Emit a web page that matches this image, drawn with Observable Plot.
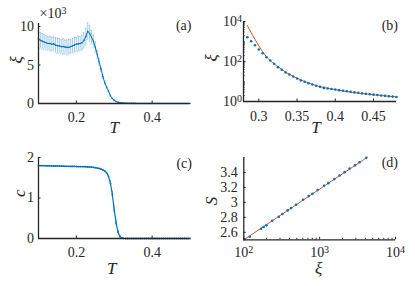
<!DOCTYPE html>
<html><head><meta charset="utf-8">
<script src="https://cdn.jsdelivr.net/npm/d3@7"></script>
<script src="https://cdn.jsdelivr.net/npm/@observablehq/plot@0.6"></script>
<style>
html,body{margin:0;padding:0;background:#fff;}
#fig{position:relative;width:415px;height:286px;overflow:hidden;background:#fff;}
#fig svg{position:absolute;font-family:"Liberation Serif","Times New Roman",serif !important;font-size:14px;color:#262626;background:transparent;overflow:visible;}
#fig svg text{font-family:"Liberation Serif","Times New Roman",serif !important;}
</style></head><body><div id="fig"></div>
<script>
// ---- data ----
const T_ac = [0.1,0.105,0.11,0.115,0.12,0.125,0.13,0.135,0.14,0.145,0.15,0.155,0.16,0.165,0.17,0.175,0.18,0.185,0.19,0.195,
  0.2,0.205,0.21,0.215,0.22,0.225,0.23,0.235,0.24,0.245,0.25,0.255,0.26,0.265,0.27,0.275,0.28,0.285,0.29,0.295,
  0.3,0.305,0.31,0.315,0.32,0.325,0.33,0.335,0.34,0.345,0.35,0.355,0.36,0.365,0.37,0.375,0.38,0.385,0.39,0.395,
  0.4,0.405,0.41,0.415,0.42,0.425,0.43,0.435,0.44,0.445,0.45,0.455,0.46,0.465,0.47,0.475,0.48,0.485,0.49,0.495,0.5];
// panel (a): correlation length, units of 10^3
const xi_a = [8.4,8.2,8.1,8.0,7.9,7.8,7.8,7.7,7.75,7.6,7.5,7.5,7.4,7.4,7.35,7.3,7.3,7.4,7.5,7.6,
  7.7,7.75,7.8,7.9,8.2,8.7,9.4,9.1,8.6,8.1,7.3,6.4,5.4,4.5,3.5,2.7,2.1,1.6,1.0,0.65,
  0.4,0.26,0.16,0.11,0.077,0.052,0.038,0.028,0.022,0.018,0.014,0.011,0.0097,0.0082,0.0071,0.0061,0.0054,0.0048,0.0045,0.0042,
  0.004,0.0037,0.0035,0.0033,0.0031,0.0029,0.0027,0.0026,0.0024,0.0023,0.0022,0.0021,0.002,0.0019,0.0018,0.0018,0.0017,0.0016,0.0016,0.0015,0.0015];
const err_a = [1.1,1.0,1.0,0.95,0.9,0.9,0.95,0.9,0.9,0.95,1.0,0.95,0.9,1.0,0.9,0.95,1.0,0.9,0.95,1.0,
  0.9,1.0,0.9,1.0,1.0,1.1,1.1,1.0,0.9,0.8,0.7,0.55,0.45,0.35,0.28,0.22,0.16,0.11,0.08,0.05,
  0.04,0.03,0.02,0,0,0,0,0,0,0,0,0,0,0,0,0,0,0,0,0,
  0,0,0,0,0,0,0,0,0,0,0,0,0,0,0,0,0,0,0,0,0];
// panel (c): central charge
const c_c = [1.80,1.80,1.80,1.80,1.795,1.795,1.795,1.79,1.79,1.79,1.79,1.788,1.786,1.785,1.784,1.783,1.782,1.78,1.78,1.779,
  1.778,1.777,1.776,1.775,1.773,1.771,1.768,1.765,1.76,1.755,1.748,1.74,1.73,1.715,1.695,1.665,1.62,1.53,1.36,1.08,
  0.70,0.38,0.16,0.05,0.015,0.005,0,0,0,0,0,0,0,0,0,0,0,0,0,0,
  0,0,0,0,0,0,0,0,0,0,0,0,0,0,0,0,0,0,0,0,0];
const err_c = [0,0,0,0,0,0,0,0,0,0,0,0,0,0,0,0,0,0,0,0,
  0,0,0,0,0,0,0,0,0,0,0,0,0,0,0,0,0.02,0.04,0.07,0.09,
  0.09,0.07,0.04,0.02,0,0,0,0,0,0,0,0,0,0,0,0,0,0,0,0,
  0,0,0,0,0,0,0,0,0,0,0,0,0,0,0,0,0,0,0,0,0];
// panel (b): xi vs T (log), with fit
const T_b = [0.285,0.29,0.295,0.3,0.305,0.31,0.315,0.32,0.325,0.33,0.335,0.34,0.345,0.35,0.355,0.36,0.365,0.37,0.375,0.38,
  0.385,0.39,0.395,0.4,0.405,0.41,0.415,0.42,0.425,0.43,0.435,0.44,0.445,0.45,0.455,0.46,0.465,0.47,0.475,0.48];
const xi_b = [1640,1035,653,398,260,164,112,77,52,38.5,28,22.4,17.8,14.1,11.2,9.7,8.2,7.1,6.1,5.4,
  4.8,4.5,4.2,4.0,3.7,3.45,3.25,3.05,2.85,2.7,2.55,2.42,2.3,2.2,2.1,2.0,1.92,1.84,1.76,1.68];
const T_bfit = [0.285,0.29,0.295,0.3,0.305,0.31,0.315,0.32,0.325,0.33,0.335,0.34,0.345,0.35,0.36,0.37,0.38,0.39,0.4,0.41,0.42,0.43,0.44,0.45,0.46,0.47,0.48];
const xi_bfit = [6310,2750,1290,603,309,174,110,76,55,39.8,29.5,22.9,18.2,14.5,10,7.24,5.5,4.6,3.9,3.4,2.95,2.62,2.38,2.18,1.99,1.83,1.7];
// panel (d): entropy vs xi
const xi_d = [102,120,169,183,199,237,289,323,379,421,489,605,716,802,942,1143,1300,1560,1832,2133,2483,2924,3357,4121];
const S_d = [2.507,2.541,2.648,2.671,2.693,2.755,2.808,2.844,2.893,2.924,2.968,3.035,3.084,3.115,3.164,3.221,3.257,3.311,3.36,3.404,3.453,3.497,3.537,3.595];
const xi_dfit = [100,4200];
const S_dfit = [2.5,3.6];
// ticks
const xTicks_ac = [0.2,0.4];
const yTicks_a = [0,5,10];
const yTicks_c = [0,1,2];
const xTicks_b = [0.3,0.35,0.4,0.45];
const yTicks_b = [1,100,10000];
const yMinor_b = [2,3,4,5,6,7,8,9,10,20,30,40,50,60,70,80,90,200,300,400,500,600,700,800,900,1000,2000,3000,4000,5000,6000,7000,8000,9000];
const xTicks_d = [100,1000,10000];
const xMinor_d = [200,300,400,500,600,700,800,900,2000,3000,4000,5000,6000,7000,8000,9000];
const yTicks_d = [2.6,2.8,3,3.2,3.4];

// ---- style ----
const BLUE = "#0072BD", ORANGE = "#D95319", INK = "#262626";
const TF = 14;
const fig = document.getElementById("fig");
const pow10 = d => "10^" + Math.round(Math.log10(d));
function supify(svg) {
  svg.querySelectorAll("text").forEach(t => {
    const m = t.textContent.match(/^(.*10)\^(\d)$/);
    if (m) {
      t.textContent = m[1];
      const s = document.createElementNS("http://www.w3.org/2000/svg", "tspan");
      s.setAttribute("dy", "-0.42em");
      s.setAttribute("font-size", "72%");
      s.textContent = m[2];
      t.appendChild(s);
    }
  });
}
function place(svg, left, top) { supify(svg); svg.style.left = left + "px"; svg.style.top = top + "px"; fig.appendChild(svg); }
const lbl = (t, o) => Plot.text([t], {text: d => d, fill: INK, ...o});

// ---- (a) ----
const A = T_ac.map((T, i) => ({T, v: xi_a[i], e: err_a[i]}));
const Ae = A.filter(d => d.e > 0);
place(Plot.plot({
  width: 207, height: 143, marginLeft: 38, marginRight: 17.5, marginTop: 23, marginBottom: 40,
  x: {domain: [0.1, 0.5]}, y: {domain: [0, 10.4]},
  marks: [
    Plot.ruleX(Ae, {x: "T", y1: d => d.v - d.e, y2: d => d.v + d.e, stroke: BLUE, strokeOpacity: 0.5, strokeWidth: 0.7}),
    Plot.ruleY(Ae, {y: d => d.v + d.e, x1: d => d.T - 0.0015, x2: d => d.T + 0.0015, stroke: BLUE, strokeOpacity: 0.5, strokeWidth: 0.7}),
    Plot.ruleY(Ae, {y: d => d.v - d.e, x1: d => d.T - 0.0015, x2: d => d.T + 0.0015, stroke: BLUE, strokeOpacity: 0.5, strokeWidth: 0.7}),
    Plot.line(A, {x: "T", y: "v", stroke: BLUE, strokeWidth: 1}),
    Plot.dot(A, {x: "T", y: "v", r: 0.8, fill: BLUE}),
    Plot.ruleX([0.1], {stroke: INK, strokeWidth: 1.3}),
    Plot.ruleY([0], {stroke: INK, strokeWidth: 1.3}),
    Plot.axisX({ticks: xTicks_ac, tickFormat: d => d.toFixed(1), tickSize: -2.5, tickPadding: 11.5, label: null, stroke: INK, fontSize: TF}),
    Plot.axisY({ticks: yTicks_a, tickFormat: d => String(d), tickSize: -2.5, tickPadding: 7, label: null, stroke: INK, fontSize: TF}),
    lbl("ξ", {frameAnchor: "left", dx: -22, rotate: -90, fontStyle: "italic", fontSize: 17}),
    lbl("T", {frameAnchor: "bottom", dy: 24, lineAnchor: "middle", fontStyle: "italic", fontSize: 17}),
    lbl("×10^3", {frameAnchor: "top-left", textAnchor: "start", dx: 1, dy: -10, lineAnchor: "middle", fontSize: 14}),
    lbl("(a)", {frameAnchor: "top-right", textAnchor: "end", dx: 1.5, dy: 2.5, lineAnchor: "middle", fontSize: 14})
  ]
}), 0, 0);

// ---- (b) ----
const B = T_b.map((T, i) => ({T, v: xi_b[i]}));
const Bf = T_bfit.map((T, i) => ({T, v: xi_bfit[i]}));
place(Plot.plot({
  width: 208, height: 143, marginLeft: 36, marginRight: 19, marginTop: 21, marginBottom: 42,
  x: {domain: [0.28, 0.48]}, y: {type: "log", domain: [1, 10000]},
  marks: [
    Plot.line(Bf, {x: "T", y: "v", stroke: ORANGE, strokeWidth: 1, curve: "monotone-x"}),
    Plot.dot(B, {x: "T", y: "v", r: 1.3, fill: BLUE}),
    Plot.ruleX([0.28], {stroke: INK, strokeWidth: 1.3}),
    Plot.ruleY([1], {stroke: INK, strokeWidth: 1.3}),
    Plot.axisX({ticks: xTicks_b, tickFormat: d => String(d), tickSize: -2.5, tickPadding: 12, label: null, stroke: INK, fontSize: TF}),
    Plot.axisY({ticks: yMinor_b, tickFormat: () => "", tickSize: -1.5, tickPadding: 2, label: null, stroke: INK}),
    Plot.axisY({ticks: yTicks_b, tickFormat: pow10, tickSize: -2.5, tickPadding: 4, label: null, stroke: INK, fontSize: TF}),
    lbl("ξ", {frameAnchor: "left", dx: -32, rotate: -90, fontStyle: "italic", fontSize: 17}),
    lbl("T", {frameAnchor: "bottom", dx: -4, dy: 26.5, lineAnchor: "middle", fontStyle: "italic", fontSize: 17}),
    lbl("(b)", {frameAnchor: "top-right", textAnchor: "end", dx: 1.5, dy: 4, lineAnchor: "middle", fontSize: 14})
  ]
}), 207, 0);

// ---- (c) ----
const C = T_ac.map((T, i) => ({T, v: c_c[i], e: err_c[i]}));
const Ce = C.filter(d => d.e > 0);
place(Plot.plot({
  width: 207, height: 143, marginLeft: 38, marginRight: 17.5, marginTop: 14, marginBottom: 48,
  x: {domain: [0.1, 0.5]}, y: {domain: [0, 2]},
  marks: [
    Plot.ruleX(Ce, {x: "T", y1: d => d.v - d.e, y2: d => d.v + d.e, stroke: BLUE, strokeOpacity: 0.7, strokeWidth: 0.8}),
    Plot.line(C, {x: "T", y: "v", stroke: BLUE, strokeWidth: 1.2}),
    Plot.dot(C, {x: "T", y: "v", r: 0.9, fill: BLUE}),
    Plot.ruleX([0.1], {stroke: INK, strokeWidth: 1.3}),
    Plot.ruleY([0], {stroke: INK, strokeWidth: 1.3}),
    Plot.axisX({ticks: xTicks_ac, tickFormat: d => d.toFixed(1), tickSize: -2.5, tickPadding: 11, label: null, stroke: INK, fontSize: TF}),
    Plot.axisY({ticks: yTicks_c, tickFormat: d => String(d), tickSize: -2.5, tickPadding: 7, label: null, stroke: INK, fontSize: TF}),
    lbl("c", {frameAnchor: "left", dx: -19, dy: -1, rotate: -90, fontStyle: "italic", fontSize: 17}),
    lbl("T", {frameAnchor: "bottom", dx: -2.5, dy: 30, lineAnchor: "middle", fontStyle: "italic", fontSize: 17}),
    lbl("(c)", {frameAnchor: "top-right", textAnchor: "end", dx: 2, dy: 6, lineAnchor: "middle", fontSize: 14})
  ]
}), 0, 143);

// ---- (d) ----
const D = xi_d.map((x, i) => ({x, s: S_d[i]}));
const Df = xi_dfit.map((x, i) => ({x, s: S_dfit[i]}));
place(Plot.plot({
  width: 208, height: 143, marginLeft: 36.3, marginRight: 20, marginTop: 14, marginBottom: 46.7,
  x: {type: "log", domain: [100, 10000]}, y: {domain: [2.5, 3.6]},
  marks: [
    Plot.line(Df, {x: "x", y: "s", stroke: ORANGE, strokeWidth: 1}),
    Plot.dot(D, {x: "x", y: "s", r: 1.3, fill: BLUE}),
    Plot.ruleX([100], {stroke: INK, strokeWidth: 1.3}),
    Plot.ruleY([2.5], {stroke: INK, strokeWidth: 1.3}),
    Plot.axisX({ticks: xMinor_d, tickFormat: () => "", tickSize: -1.5, tickPadding: 2, label: null, stroke: INK}),
    Plot.axisX({ticks: xTicks_d, tickFormat: pow10, tickSize: -2.5, tickPadding: 10, label: null, stroke: INK, fontSize: TF}),
    Plot.axisY({ticks: yTicks_d, tickFormat: d => String(d), tickSize: -2.5, tickPadding: 8.5, label: null, stroke: INK, fontSize: TF}),
    lbl("S", {frameAnchor: "left", dx: -32, dy: 6.5, rotate: -90, fontStyle: "italic", fontSize: 17}),
    lbl("ξ", {frameAnchor: "bottom", dx: -1, dy: 29, lineAnchor: "middle", fontStyle: "italic", fontSize: 17}),
    lbl("(d)", {frameAnchor: "top-right", textAnchor: "end", dx: 2.5, dy: 5.5, lineAnchor: "middle", fontSize: 14})
  ]
}), 207, 143);
</script></body></html>
